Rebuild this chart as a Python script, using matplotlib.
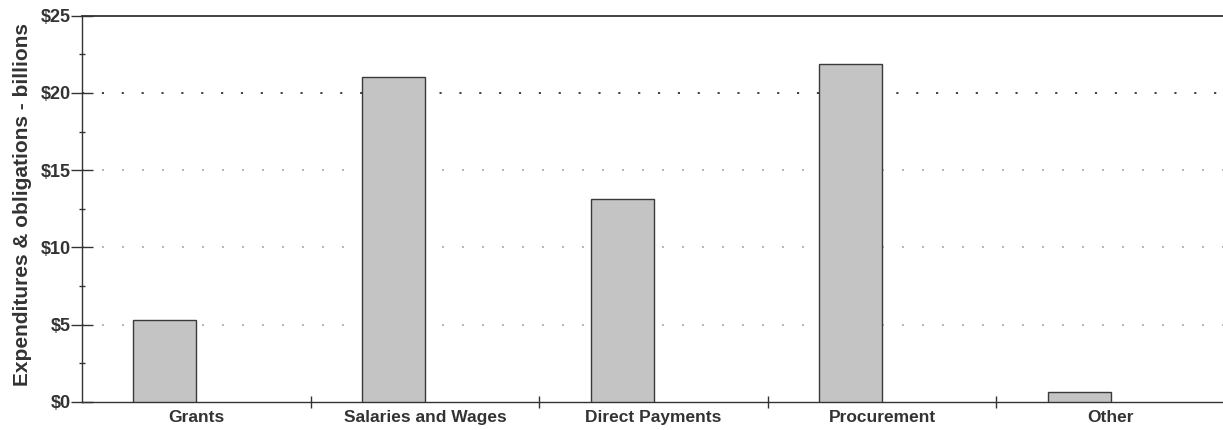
import matplotlib
matplotlib.use("Agg")
import matplotlib.pyplot as plt
import numpy as np

categories = ["Grants", "Salaries and Wages", "Direct Payments", "Procurement", "Other"]
values = [5.3, 21.0, 13.1, 21.9, 0.6]
y_ticks = [0, 5, 10, 15, 20, 25]
y_tick_labels = ["$0", "$5", "$10", "$15", "$20", "$25"]
y_label = "Expenditures & obligations - billions"

plt.rcParams['font.family'] = ['Liberation Sans', 'DejaVu Sans']

fig = plt.figure(figsize=(12.23, 4.30), dpi=100)
ax = fig.add_axes([82/1223, 1 - 401.7/430, (1225 - 82)/1223, (401.7 - 15.7)/430])

x = np.arange(len(categories))
ax.bar(x, values, width=-0.275, align='edge', color='#c4c4c4',
       edgecolor='#3a3a3a', linewidth=1.0, zorder=3)

ax.set_xlim(-0.5, len(categories) - 0.5)
ax.set_ylim(0, 25)

# grid lines
for yv in [5, 10, 15]:
    ax.axhline(yv, color='#aaaaaa', linewidth=1.2, linestyle=(0, (1.2, 10.8)), zorder=1)
ax.axhline(20, color='#333333', linewidth=1.3, linestyle=(0, (1.2, 9.8)), zorder=1)

ax.set_yticks(y_ticks)
ax.set_yticklabels(y_tick_labels, fontsize=13, fontweight='bold', color='#333333')
ax.set_yticks(np.arange(2.5, 25, 5), minor=True)
ax.tick_params(axis='y', which='major', direction='inout', length=15.5, width=1, color='#333333', pad=0)
ax.tick_params(axis='y', which='minor', direction='inout', length=4.5, width=1, color='#333333')

ax.set_xticks(x)
ax.set_xticklabels(categories, fontsize=12.5, fontweight='bold', color='#333333')
ax.tick_params(axis='x', which='major', length=0, pad=6)
ax.set_xticks(np.arange(0.5, len(categories) - 0.5, 1), minor=True)
ax.tick_params(axis='x', which='minor', direction='inout', length=8, width=1, color='#333333')

ax.set_ylabel(y_label, fontsize=15, fontweight='bold', color='#333333')
ax.yaxis.set_label_coords(-50/1143, 0.51)

for s in ['left', 'bottom', 'top']:
    ax.spines[s].set_color('#333333')
    ax.spines[s].set_linewidth(1.0)
ax.spines['top'].set_linewidth(1.3)
ax.spines['right'].set_visible(False)

fig.savefig("out.png", dpi=100)
